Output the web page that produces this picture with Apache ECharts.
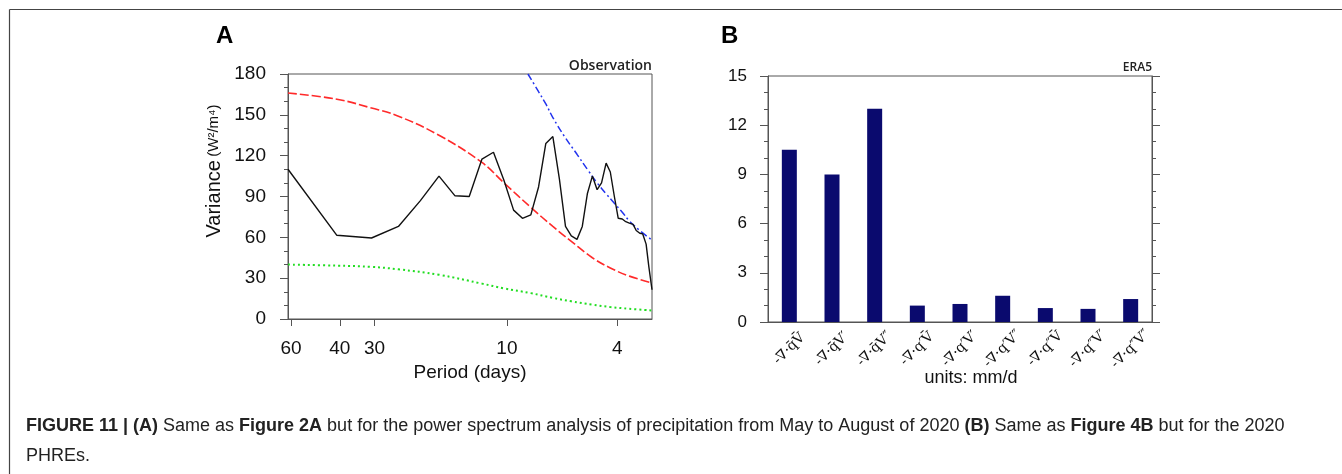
<!DOCTYPE html>
<html>
<head>
<meta charset="utf-8">
<title>Figure 11</title>
<script src="https://cdn.jsdelivr.net/npm/echarts@6/dist/echarts.min.js"></script>
<style>
  html, body { margin: 0; padding: 0; background: #fff; }
  #chart { width: 1342px; height: 474px; }
</style>
</head>
<body>
<div id="chart"></div>
<script>
// panel A: power spectrum of precipitation (period in days, log axis)
const periods = [61.5, 41, 30.75, 24.6, 20.5, 17.57, 15.38, 13.67, 12.3, 11.18, 10.25, 9.46, 8.79, 8.2, 7.69, 7.24, 6.83, 6.47, 6.15, 5.86,
  5.59, 5.35, 5.13, 4.92, 4.73, 4.56, 4.39, 4.24, 4.1, 3.97, 3.84, 3.73, 3.62, 3.51, 3.42, 3.32, 3.24, 3.15, 3.08, 3.0];
const observed = [110, 61.5, 59.5, 68, 87, 105, 90.5, 90, 117.5, 122.5, 102, 80, 74, 76.5, 97, 129, 134, 103, 68, 61,
  58.5, 68, 92, 105, 95, 100, 114.5, 108, 90, 74, 73.5, 71.5, 70.5, 69.5, 65, 63, 62.5, 55, 38.5, 21.5];

const curvePeriods = [61.5, 41, 30.75, 24.6, 17.57, 12.3, 10.25, 8.2, 6.83, 5.86, 4.92, 4.24, 3.62, 3.0];
const redNoise = [166, 161.5, 155, 149, 135, 115, 100, 82, 68, 57, 45, 37.5, 31.5, 26.5];
const greenNoise = [40, 39.2, 38.3, 36.5, 32.5, 26, 22.5, 19, 15.5, 13, 10.5, 8.8, 7.5, 6.3];

const bluePeriods = [8.4, 7.69, 7.24, 6.83, 6.15, 5.59, 5.13, 4.73, 4.39, 4.1, 3.84, 3.62, 3.32, 3.0];
const blueLimit = [180, 167, 158, 148, 133, 121, 110, 100, 92, 85, 78.5, 72, 65, 58];

const periodTicks = [60, 40, 30, 10, 4];

// panel B: moisture budget terms (mm/d)
const terms = [
  "-\u2207\u00b7q\u0304V\u0304", "-\u2207\u00b7q\u0304V\u2032", "-\u2207\u00b7q\u0304V\u2033",
  "-\u2207\u00b7q\u2032V\u0304", "-\u2207\u00b7q\u2032V\u2032", "-\u2207\u00b7q\u2032V\u2033",
  "-\u2207\u00b7q\u2033V\u0304", "-\u2207\u00b7q\u2033V\u2032", "-\u2207\u00b7q\u2033V\u2033"
];
const termValues = [10.5, 9.0, 13.0, 1.0, 1.1, 1.6, 0.85, 0.8, 1.4];

const pair = (xs, ys) => xs.map((x, i) => [x, ys[i]]);

const sans = "Liberation Sans, Arial, sans-serif";
const axisGray = "#555";

const chart = echarts.init(document.getElementById("chart"));

const option = {
  animation: false,
  backgroundColor: "#ffffff",
  grid: [
    { left: 288, top: 74, width: 364, height: 245, show: true, borderColor: axisGray, borderWidth: 1 },
    { left: 768, top: 76, width: 384, height: 246, show: true, borderColor: axisGray, borderWidth: 1 },
  ],
  xAxis: [
    {
      gridIndex: 0,
      type: "log",
      inverse: true,
      min: 3,
      max: 61.5,
      axisLine: { lineStyle: { color: axisGray } },
      axisTick: { customValues: periodTicks, length: 7, lineStyle: { color: axisGray } },
      axisLabel: { customValues: periodTicks, fontSize: 19, color: "#111", fontFamily: sans, margin: 20 },
      splitLine: { show: false },
      name: "Period (days)",
      nameLocation: "middle",
      nameGap: 44,
      nameTextStyle: { fontSize: 19, color: "#111", fontFamily: sans },
    },
    {
      gridIndex: 1,
      type: "category",
      data: terms,
      axisLine: { lineStyle: { color: axisGray } },
      axisTick: { alignWithLabel: true, length: 7, lineStyle: { color: axisGray } },
      axisLabel: {
        interval: 0,
        rotate: 45,
        align: "center",
        verticalAlign: "middle",
        margin: 27,
        fontSize: 14,
        color: "#111",
        fontFamily: "DejaVu Serif, serif",
      },
      splitLine: { show: false },
    },
  ],
  yAxis: [
    {
      gridIndex: 0,
      type: "value",
      min: 0,
      max: 180,
      interval: 30,
      axisLine: { show: true, lineStyle: { color: axisGray } },
      axisTick: { show: true, length: 8, lineStyle: { color: axisGray } },
      minorTick: { show: true, splitNumber: 3, length: 4, lineStyle: { color: axisGray } },
      axisLabel: { fontSize: 19, color: "#111", fontFamily: sans, margin: 22 },
      splitLine: { show: false },
    },
    {
      gridIndex: 1,
      type: "value",
      min: 0,
      max: 15,
      interval: 3,
      axisLine: { show: true, lineStyle: { color: axisGray } },
      axisTick: { show: true, length: 8, lineStyle: { color: axisGray } },
      minorTick: { show: true, splitNumber: 3, length: 4, lineStyle: { color: axisGray } },
      axisLabel: { fontSize: 17, color: "#111", fontFamily: sans, margin: 21 },
      splitLine: { show: false },
    },
    {
      gridIndex: 1,
      type: "value",
      position: "right",
      min: 0,
      max: 15,
      interval: 3,
      axisLine: { show: true, lineStyle: { color: axisGray } },
      axisTick: { show: true, length: 8, lineStyle: { color: axisGray } },
      minorTick: { show: true, splitNumber: 3, length: 4, lineStyle: { color: axisGray } },
      axisLabel: { show: false },
      splitLine: { show: false },
    },
  ],
  series: [
    {
      name: "red noise",
      type: "line",
      xAxisIndex: 0,
      yAxisIndex: 0,
      data: pair(curvePeriods, redNoise),
      smooth: 0.4,
      showSymbol: false,
      lineStyle: { color: "#ff2a2a", width: 1.6, type: [9, 3] },
    },
    {
      name: "lower bound",
      type: "line",
      xAxisIndex: 0,
      yAxisIndex: 0,
      data: pair(curvePeriods, greenNoise),
      smooth: 0.4,
      showSymbol: false,
      lineStyle: { color: "#22dd22", width: 2, type: [2, 3] },
    },
    {
      name: "confidence",
      type: "line",
      xAxisIndex: 0,
      yAxisIndex: 0,
      data: pair(bluePeriods, blueLimit),
      smooth: 0.4,
      showSymbol: false,
      lineStyle: { color: "#2233ee", width: 1.5, type: [7, 3, 2, 3] },
    },
    {
      name: "Observation",
      type: "line",
      xAxisIndex: 0,
      yAxisIndex: 0,
      data: pair(periods, observed),
      showSymbol: false,
      lineStyle: { color: "#111", width: 1.4 },
    },
    {
      name: "ERA5",
      type: "bar",
      xAxisIndex: 1,
      yAxisIndex: 1,
      data: termValues,
      barWidth: 15,
      itemStyle: { color: "#0a0a6e" },
    },
  ],
  graphic: [
    // figure frame (top and left edges)
    { type: "line", shape: { x1: 9.5, y1: 9.5, x2: 1342, y2: 9.5 }, style: { stroke: "#444", lineWidth: 1.2 } },
    { type: "line", shape: { x1: 9.5, y1: 9.5, x2: 9.5, y2: 474 }, style: { stroke: "#444", lineWidth: 1.2 } },
    { type: "text", left: 216, top: 24, style: { text: "A", font: "bold 24px " + sans, fill: "#000" } },
    { type: "text", left: 721, top: 24, style: { text: "B", font: "bold 24px " + sans, fill: "#000" } },
    {
      type: "text", x: 652, y: 73,
      style: { text: "Observation", align: "right", verticalAlign: "bottom", font: "600 14px Open Sans, sans-serif", fill: "#222" },
    },
    {
      type: "text", x: 1152, y: 74,
      style: { text: "ERA5", align: "right", verticalAlign: "bottom", font: "600 12px Open Sans, sans-serif", fill: "#222" },
    },
    {
      type: "text", x: 214, y: 171, rotation: Math.PI / 2,
      style: {
        text: "{a|Variance} {s|(W\u00b2/m\u2074)}",
        align: "center",
        verticalAlign: "middle",
        rich: {
          a: { fontSize: 20, fontFamily: sans, fill: "#111" },
          s: { fontSize: 15, fontFamily: sans, fill: "#111" },
        },
      },
    },
    {
      type: "text", x: 971, y: 378,
      style: { text: "units: mm/d", align: "center", verticalAlign: "middle", font: "18px " + sans, fill: "#111" },
    },
    {
      type: "text", left: 26, top: 417,
      style: {
        text: "{b|FIGURE 11 | (A)} Same as {b|Figure 2A} but for the power spectrum analysis of precipitation from May to August of 2020 {b|(B)} Same as {b|Figure 4B} but for the 2020",
        fontSize: 18,
        fontFamily: sans,
        fill: "#222",
        rich: { b: { fontSize: 18, fontFamily: sans, fontWeight: "bold", fill: "#222" } },
      },
    },
    {
      type: "text", left: 26, top: 447,
      style: { text: "PHREs.", font: "18px " + sans, fill: "#222" },
    },
  ],
};

chart.setOption(option);
</script>
</body>
</html>
